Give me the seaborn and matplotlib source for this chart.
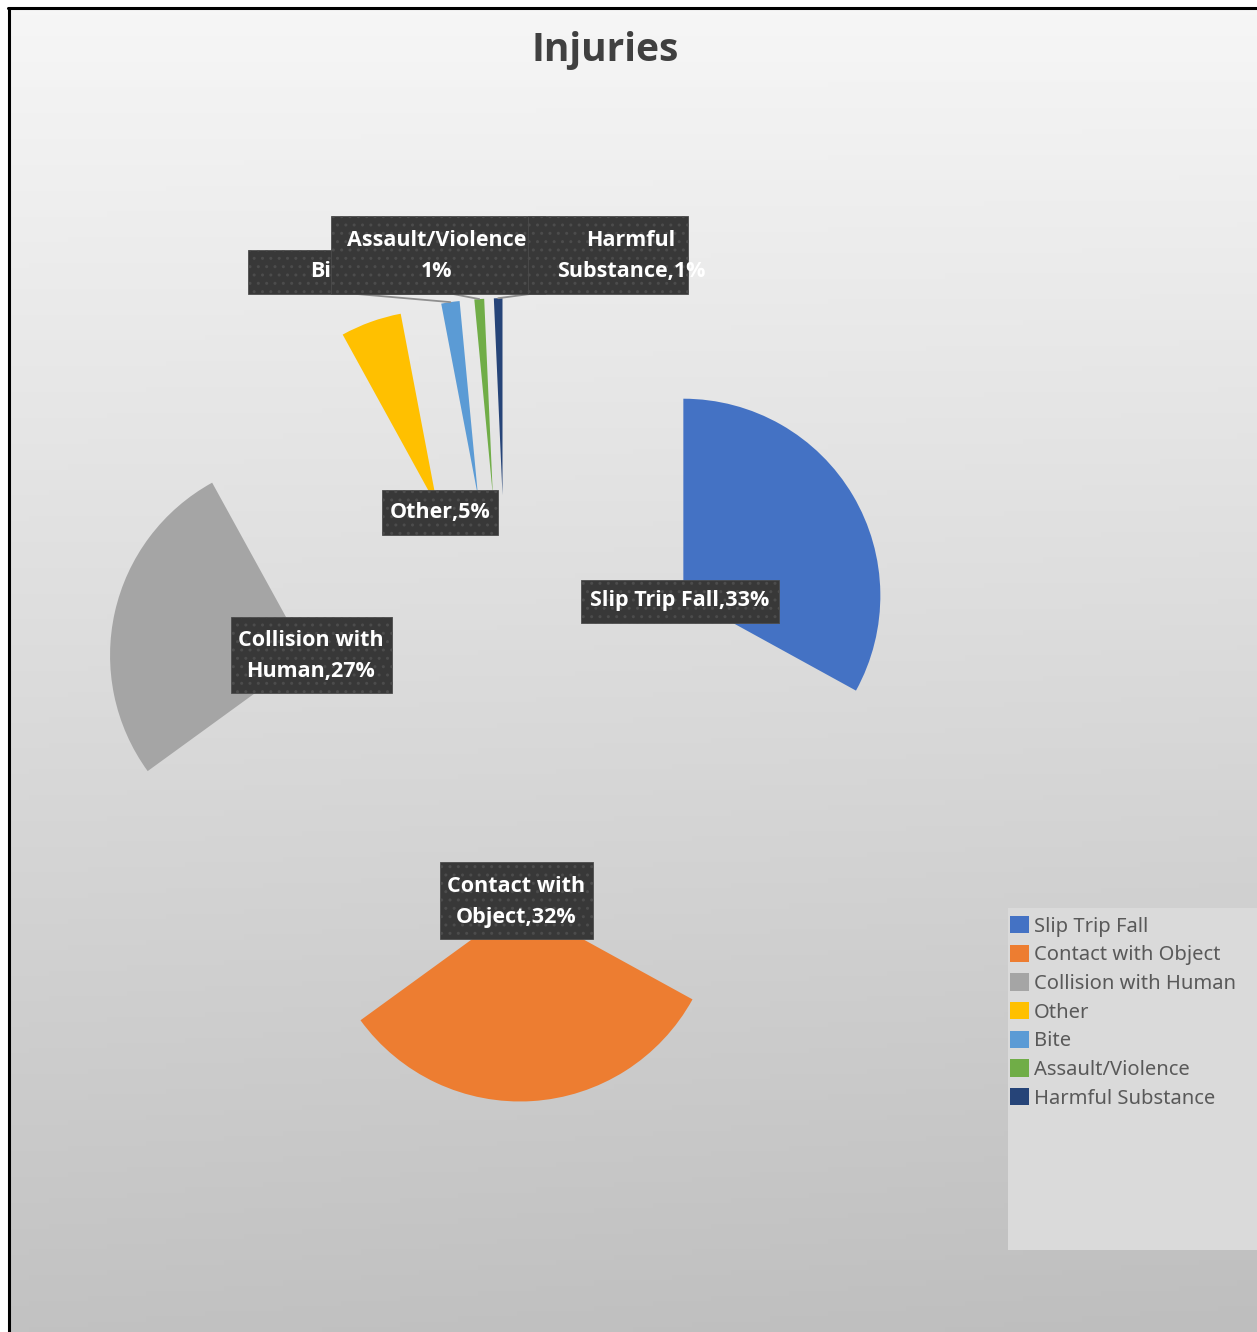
import numpy as np
import matplotlib
matplotlib.use("Agg")
import matplotlib.pyplot as plt
import seaborn as sns
from matplotlib.patches import Rectangle
from matplotlib.lines import Line2D

# ---- data ----
categories = ["Slip Trip Fall", "Contact with Object", "Collision with Human",
              "Other", "Bite", "Assault/Violence", "Harmful Substance"]
values = [33, 32, 27, 5, 1.5, 0.8, 0.7]
colors = ["#4472C4", "#ED7D31", "#A5A5A5", "#FFC000", "#5B9BD5", "#70AD47", "#264478"]
title = "Injuries"

sns.set_theme(style="white")
plt.rcParams["font.family"] = ["Open Sans", "DejaVu Sans"]

W, H = 1257, 1332
fig = plt.figure(figsize=(W / 100, H / 100), dpi=100)
fig.patch.set_facecolor("white")

# background gradient
bg = fig.add_axes([10 / W, 0, 1 - 10 / W, 1 - 10 / H])
yy = np.linspace(0, 1, 256)[:, None]
xx = np.linspace(0, 1, 64)[None, :]
grad = 246 - 52 * yy - 4 * xx * yy
grad = np.repeat((grad / 255.0)[:, :, None], 3, axis=2)
bg.imshow(grad, aspect="auto", extent=(0, 1, 0, 1), origin="upper")
bg.set_axis_off()

# border lines
fig.add_artist(Line2D([9 / W, 9 / W], [0, 1 - 8 / H], transform=fig.transFigure, color="black", lw=2.2))
fig.add_artist(Line2D([8 / W, 1], [1 - 8 / H, 1 - 8 / H], transform=fig.transFigure, color="black", lw=2.2))

# pie axes (1 data unit = R px)
CX, CY, R = 507, 700, 197
ax = fig.add_axes([0, 0, 1, 1])
ax.patch.set_alpha(0)
sizes = [v / sum(values) for v in values]
wedges, _ = ax.pie(sizes, colors=colors, startangle=90, counterclock=False,
                   explode=[1.04] * len(values), radius=1,
                   wedgeprops=dict(linewidth=0))
ax.set_xlim(-CX / R, (W - CX) / R)
ax.set_ylim(-(H - CY) / R, CY / R)
ax.set_aspect("auto")
ax.set_axis_off()


def P(x, y):
    return ((x - CX) / R, (CY - y) / R)


pct = [f"{round(v / sum(values) * 100)}%" for v in values]
label_text = [
    f"{categories[0]},{pct[0]}",
    f"Contact with\nObject,{pct[1]}",
    f"Collision with\nHuman,{pct[2]}",
    f"{categories[3]},{pct[3]}",
    f"{categories[4]},{pct[4]}",
    f"{categories[5]}\n{pct[5]}",
    f"Harmful\nSubstance,{pct[6]}",
]
# box extents in pixels (x0, x1, y0, y1) and text centre
layout = [
    (581, 779, 580, 623, 680, 601),
    (440, 593, 862, 939, 516, 902),
    (231, 392, 617, 693, 311, 656),
    (382, 498, 490, 535, 440, 513),
    (248, 458, 250, 294, 350, 272),
    (331, 545, 216, 294, 437, 256),
    (528, 688, 216, 294, 631, 256),
]
leader_start = {4: (357, 294), 5: (453, 294), 6: (530, 294)}

for i, (txt, (x0, x1, y0, y1, tx, ty)) in enumerate(zip(label_text, layout)):
    z = 5 + 2 * i
    if i in leader_start:
        w = wedges[i]
        th = np.deg2rad((w.theta1 + w.theta2) / 2)
        ex = w.center[0] + w.r * np.cos(th)
        ey = w.center[1] + w.r * np.sin(th)
        sx, sy = P(*leader_start[i])
        ax.plot([sx, ex], [sy, ey], color="#8f8f8f", lw=1.3, zorder=4)
    bx, by = P(x0, y1)
    rect = Rectangle((bx, by), (x1 - x0) / R, (y1 - y0) / R, facecolor="#383838",
                     edgecolor="#4c4c4c", hatch="..", lw=0.6, zorder=z)
    ax.add_patch(rect)
    cx, cy = P(tx, ty)
    t = ax.text(cx, cy, txt, ha="center", va="center", color="white", fontsize=15.5,
                fontweight="bold", linespacing=1.65, zorder=z + 1)
    if i == 4:
        # only the part left of the Assault/Violence box is visible
        cbx, cby = P(x0, y1)
        clip = Rectangle((cbx, cby), (331 - x0) / R, (y1 - y0) / R, transform=ax.transData)
        t.set_clip_path(clip)

# title
fig.text(605 / W, 1 - 50 / H, title, ha="center", va="center", fontsize=28,
         fontweight="bold", color="#404040")

# legend
fig.add_artist(Rectangle((1008 / W, 1 - 1250 / H), (W - 1008) / W, (1250 - 908) / H,
                         transform=fig.transFigure, facecolor="#dadada", edgecolor="none", zorder=1))
leg = fig.legend(wedges, categories, loc="upper left", bbox_to_anchor=(1004 / W, 1 - 910 / H),
                 frameon=False, handlelength=0.95, handleheight=0.95,
                 handletextpad=0.25, labelspacing=0.4, borderaxespad=0, borderpad=0.3,
                 prop={"family": ["Noto Sans", "DejaVu Sans"], "size": 14.5})
for t in leg.get_texts():
    t.set_color("#595959")
leg.set_zorder(2)

fig.savefig("out.png", dpi=100)
